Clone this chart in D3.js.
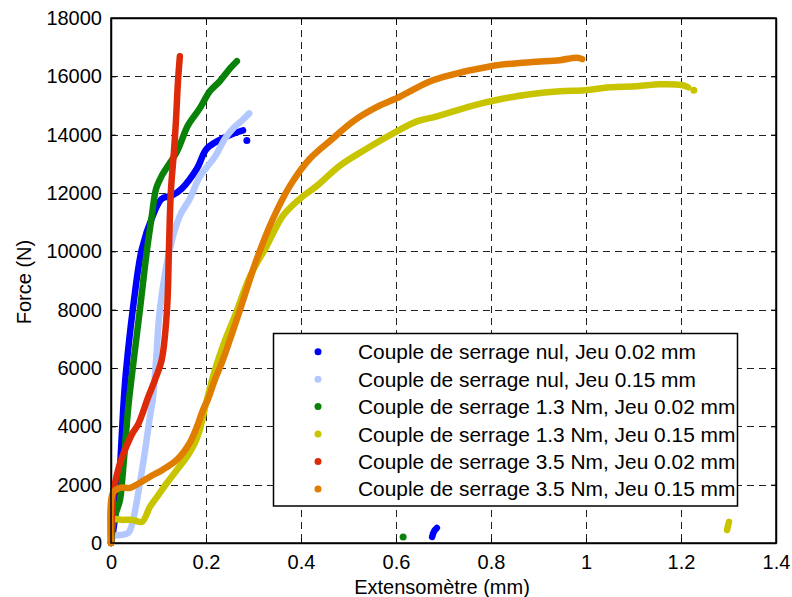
<!DOCTYPE html>
<html>
<head>
<meta charset="utf-8">
<script src="https://cdn.jsdelivr.net/npm/d3@7"></script>
<style>
  html, body { margin: 0; padding: 0; background: #fff; }
  svg { display: block; font-family: "Liberation Sans", Arial, Helvetica, sans-serif; }
</style>
</head>
<body>
<svg id="chart" width="792" height="597"></svg>
<script>
// ---- data (Extensomètre mm, Force N) ----
const seriesNames = [
  "Couple de serrage nul, Jeu 0.02 mm",
  "Couple de serrage nul, Jeu 0.15 mm",
  "Couple de serrage 1.3 Nm, Jeu 0.02 mm",
  "Couple de serrage 1.3 Nm, Jeu 0.15 mm",
  "Couple de serrage 3.5 Nm, Jeu 0.02 mm",
  "Couple de serrage 3.5 Nm, Jeu 0.15 mm"
];
const seriesColors = ["#0000ff", "#b3c8ff", "#0a820a", "#c8c400", "#dd2a08", "#e07d00"];

const nul002 = [[0,0],[0.004,344],[0.013,1480],[0.019,2616],[0.023,3786],[0.027,4922],[0.032,5954],
  [0.046,8019],[0.065,10084],[0.088,11220],[0.107,11805],[0.128,11908],[0.149,12149],[0.181,12838],
  [0.202,13526],[0.244,13939],[0.278,14145]];
const nul002Dots = [[0.286,13801]];
const nul002Tail = [[0.676,206],[0.678,320],[0.681,430],[0.686,516]];

const nul015 = [[0,0],[0.004,240],[0.019,275],[0.036,344],[0.044,620],[0.051,1136],[0.061,2065],
  [0.072,3201],[0.082,4337],[0.088,4922],[0.095,6298],[0.103,8019],[0.124,10084],[0.145,11220],
  [0.166,11805],[0.187,12562],[0.219,13250],[0.240,13870],[0.257,14214],[0.276,14489],[0.291,14730]];

const c13j002 = [[0,0],[0.006,792],[0.019,1480],[0.023,2065],[0.029,3201],[0.034,4233],[0.038,4922],
  [0.048,6298],[0.061,8019],[0.076,10084],[0.086,11220],[0.095,12149],[0.107,12597],[0.139,13423],
  [0.162,14317],[0.187,14903],[0.208,15488],[0.229,15832],[0.251,16279],[0.265,16520]];
const c13j002Dots = [[0.615,206]];

const c13j015 = [[0,0],[0.004,792],[0.025,792],[0.046,792],[0.065,723],[0.082,1239],[0.097,1583],
  [0.118,2065],[0.139,2513],[0.160,2960],[0.177,3442],[0.187,3889],[0.202,4922],[0.222,6100],
  [0.240,6950],[0.260,7750],[0.293,9155],[0.328,10188],[0.362,11220],[0.398,11805],[0.434,12253],
  [0.482,12941],[0.539,13526],[0.594,14043],[0.644,14455],[0.686,14627],[0.756,14972],[0.819,15213],
  [0.882,15385],[0.945,15488],[0.998,15523],[1.051,15626],[1.107,15660],[1.156,15729],[1.204,15695],
  [1.215,15626]];
const c13j015Dots = [[1.227,15523]];
const c13j015Tail = [[1.297,447],[1.299,590],[1.301,723]];

const c35j002 = [[0,0],[0.002,964],[0.006,1824],[0.015,2512],[0.023,2925],[0.034,3373],[0.046,3786],
  [0.057,4061],[0.067,4474],[0.078,4990],[0.093,5610],[0.107,6298],[0.118,8019],[0.122,10084],
  [0.126,12046],[0.133,13526],[0.137,14558],[0.141,15832],[0.145,16692]];

const c35j015 = [[0,0],[0.004,1721],[0.019,1893],[0.040,1893],[0.061,2065],[0.082,2272],[0.109,2513],
  [0.139,2857],[0.166,3442],[0.181,3992],[0.194,4578],[0.204,4922],[0.219,5610],[0.236,6298],
  [0.272,8019],[0.307,9740],[0.341,11117],[0.377,12253],[0.419,13182],[0.467,13870],[0.509,14450],
  [0.560,14950],[0.608,15300],[0.665,15780],[0.700,15980],[0.800,16348],[0.882,16486],[0.945,16555],
  [0.981,16640],[0.992,16589]];

const seriesLines = [nul002, nul015, c13j002, c13j015, c35j002, c35j015];
const seriesDots  = [nul002Dots, [], c13j002Dots, c13j015Dots, [], []];
const seriesTails = [nul002Tail, [], [], c13j015Tail, [], []];

const xTicks = [0, 0.2, 0.4, 0.6, 0.8, 1, 1.2, 1.4];
const yTicks = [0, 2000, 4000, 6000, 8000, 10000, 12000, 14000, 16000, 18000];
const xLabel = "Extensomètre (mm)";
const yLabel = "Force (N)";

// ---- layout ----
const svg = d3.select("#chart");
const L = 111, R = 776, T = 18, B = 543;
const x = d3.scaleLinear().domain([0, 1.4]).range([L, R]);
const y = d3.scaleLinear().domain([0, 18000]).range([B, T]);

// grid
const grid = svg.append("g").attr("stroke", "#222").attr("stroke-width", 1).attr("stroke-dasharray", "7,5");
grid.selectAll("line.gx").data(xTicks.slice(1, -1)).join("line")
  .attr("x1", d => Math.round(x(d)) + 0.5).attr("x2", d => Math.round(x(d)) + 0.5)
  .attr("y1", T).attr("y2", B);
grid.selectAll("line.gy").data(yTicks.slice(1, -1)).join("line")
  .attr("y1", d => Math.round(y(d)) + 0.5).attr("y2", d => Math.round(y(d)) + 0.5)
  .attr("x1", L).attr("x2", R);

// axes
const fmtX = d => d === 0 ? "0" : (Number.isInteger(d) ? String(d) : d.toFixed(1));
const axB = svg.append("g").attr("transform", `translate(0,${B})`)
  .call(d3.axisBottom(x).tickValues(xTicks).tickFormat(fmtX).tickSizeInner(-5).tickSizeOuter(0).tickPadding(10));
const axL = svg.append("g").attr("transform", `translate(${L},0)`)
  .call(d3.axisLeft(y).tickValues(yTicks).tickFormat(d3.format("d")).tickSizeInner(-5).tickSizeOuter(0).tickPadding(9));
const axT = svg.append("g").attr("transform", `translate(0,${T})`)
  .call(d3.axisTop(x).tickValues(xTicks).tickFormat("").tickSizeInner(-5).tickSizeOuter(0));
const axR = svg.append("g").attr("transform", `translate(${R},0)`)
  .call(d3.axisRight(y).tickValues(yTicks).tickFormat("").tickSizeInner(-5).tickSizeOuter(0));
[axB, axL, axT, axR].forEach(a => {
  a.selectAll(".domain").attr("stroke", "#000").attr("stroke-width", 1.5);
  a.selectAll(".tick line").attr("stroke", "#000");
  a.selectAll("text").attr("font-size", 20).attr("fill", "#000")
    .attr("font-family", "'Liberation Sans', Arial, sans-serif");
});
axB.selectAll("text").attr("dy", "0.71em").attr("y", 12);

// data lines
const smooth = d3.line().x(d => x(d[0])).y(d => y(d[1])).curve(d3.curveCatmullRom.alpha(0.5));
const straight = d3.line().x(d => x(d[0])).y(d => y(d[1]));
const lineG = svg.append("g");
seriesLines.forEach((s, i) => {
  lineG.append("path").datum(s)
    .attr("fill", "none").attr("stroke", seriesColors[i]).attr("stroke-width", 6.5)
    .attr("stroke-linecap", "round").attr("stroke-linejoin", "round")
    .attr("d", smooth);
  lineG.selectAll(null).data(seriesDots[i]).join("circle")
    .attr("cx", d => x(d[0])).attr("cy", d => y(d[1])).attr("r", 3.5)
    .attr("fill", seriesColors[i]);
  if (seriesTails[i].length) {
    lineG.append("path").datum(seriesTails[i]).attr("fill", "none").attr("stroke", seriesColors[i])
      .attr("stroke-width", 6.5).attr("stroke-linecap", "round").attr("stroke-linejoin", "round")
      .attr("d", straight);
  }
});

// box border
svg.append("rect").attr("x", L).attr("y", T).attr("width", R - L).attr("height", B - T)
  .attr("fill", "none").attr("stroke", "#000").attr("stroke-width", 1.5);

// legend
const lg = svg.append("g");
const lx = 273.5, ly = 333.5, lw = 464, lh = 172.5;
lg.append("rect").attr("x", lx).attr("y", ly).attr("width", lw).attr("height", lh)
  .attr("fill", "#fff").attr("stroke", "#000").attr("stroke-width", 1.5);
seriesNames.forEach((n, i) => {
  const cy = 351.7 + i * 27.45;
  lg.append("circle").attr("cx", 318).attr("cy", cy).attr("r", 3.5).attr("fill", seriesColors[i]);
  lg.append("text").attr("x", 358).attr("y", cy).attr("dy", "0.36em")
    .attr("font-size", 20.9).attr("fill", "#000").text(n);
});

// axis labels
svg.append("text").attr("x", 442).attr("y", 594).attr("text-anchor", "middle")
  .attr("font-size", 20).attr("fill", "#000").text(xLabel);
svg.append("text").attr("transform", "translate(31,282) rotate(-90)").attr("text-anchor", "middle")
  .attr("font-size", 20).attr("fill", "#000").text(yLabel);
</script>
</body>
</html>
